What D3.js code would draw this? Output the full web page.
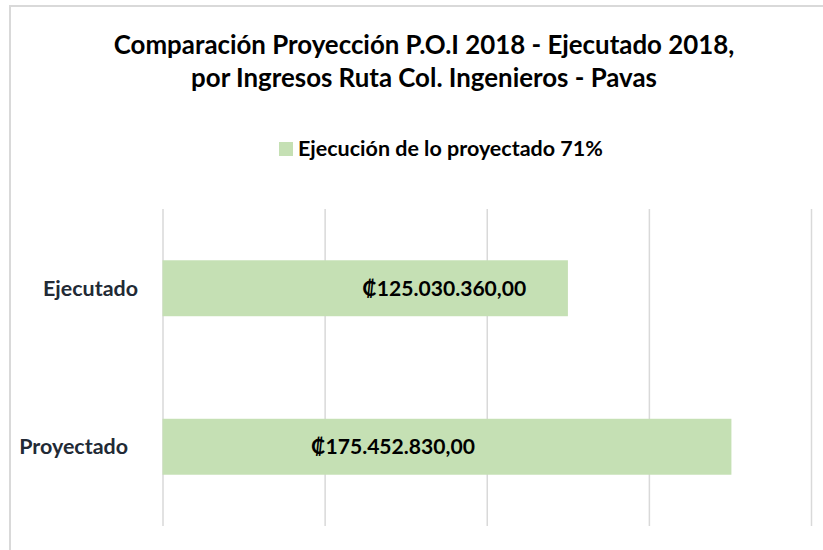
<!DOCTYPE html>
<html>
<head>
<meta charset="utf-8">
<script src="https://cdn.jsdelivr.net/npm/d3@7"></script>
<style>
  html, body { margin: 0; padding: 0; background: #fff; }
  svg { display: block; }
  text { font-family: Lato, "Noto Sans", sans-serif; font-weight: 700; }
</style>
</head>
<body>
<svg id="chart" width="823" height="550"></svg>
<script>
// ---- data ----
const categories = ["Ejecutado", "Proyectado"];
const values = [125030360.00, 175452830.00];
const valueLabels = ["₡125.030.360,00", "₡175.452.830,00"];
const xTicks = [0, 50000000, 100000000, 150000000, 200000000];
const titleLines = ["Comparación Proyección P.O.I 2018 - Ejecutado 2018,", "por Ingresos Ruta Col. Ingenieros - Pavas"];
const legendLabel = "Ejecución de lo proyectado 71%";

// ---- layout ----
const W = 823, H = 550;
const plot = { left: 162.5, right: 811, top: 209, bottom: 526 };
const barColor = "#c5e0b4";
const gridColor = "#d9d9d9";

const svg = d3.select("#chart");

function fit(sel, target) {
  sel.attr("font-size", 20);
  const w = sel.node().getComputedTextLength();
  const fs = 20 * target / w;
  sel.attr("font-size", fs);
  return fs;
}

// frame
svg.append("rect")
  .attr("x", 10).attr("y", 6).attr("width", 900).attr("height", 900)
  .attr("fill", "#fff").attr("stroke", gridColor).attr("stroke-width", 2);

// scales
const x = d3.scaleLinear().domain([0, 200000000]).range([plot.left, plot.right]);
const y = d3.scaleBand().domain(categories).range([plot.top, plot.bottom])
  .paddingInner(0.647).paddingOuter(0.647 / 2);

// gridlines via axis
const grid = svg.append("g")
  .attr("transform", `translate(0,${plot.bottom})`)
  .call(d3.axisBottom(x).tickValues(xTicks).tickSize(-(plot.bottom - plot.top)).tickFormat(""));
grid.select(".domain").remove();
grid.selectAll(".tick line").attr("stroke", gridColor).attr("stroke-width", 1.5);

// bars
svg.append("g").selectAll("rect")
  .data(categories)
  .join("rect")
  .attr("x", x(0))
  .attr("y", d => y(d))
  .attr("width", (d, i) => x(values[i]) - x(0))
  .attr("height", y.bandwidth())
  .attr("fill", barColor);

// title
const t1 = svg.append("text").attr("x", 424).attr("y", 54).attr("text-anchor", "middle")
  .attr("fill", "#000").text(titleLines[0]);
const t2 = svg.append("text").attr("x", 424).attr("y", 87).attr("text-anchor", "middle")
  .attr("fill", "#000").text(titleLines[1]);
const tfs = fit(t2, 466);
t1.attr("font-size", tfs);

// legend
svg.append("rect").attr("x", 279).attr("y", 142).attr("width", 14).attr("height", 14).attr("fill", barColor);
const lg = svg.append("text").attr("x", 298).attr("y", 155.5).attr("fill", "#000").text(legendLabel);
fit(lg, 305);

// category axis labels
const catOffset = { "Ejecutado": 24.5, "Proyectado": 34.5 };
const yAxis = svg.append("g")
  .attr("transform", `translate(${plot.left},0)`)
  .call(d3.axisLeft(y).tickSize(0).tickPadding(0));
yAxis.select(".domain").remove();
const catTexts = yAxis.selectAll(".tick text")
  .attr("fill", "#222a35")
  .attr("font-family", null)
  .attr("dy", "0.35em")
  .attr("x", d => -catOffset[d]);
const cfs = fit(d3.select(catTexts.nodes()[0]), 95);
catTexts.attr("font-size", cfs);

// value labels
const labelFrac = [0.695, 0.405];
const vl = svg.append("g").selectAll("text")
  .data(categories)
  .join("text")
  .attr("x", (d, i) => x(values[i] * labelFrac[i]))
  .attr("y", d => y(d) + y.bandwidth() / 2)
  .attr("dy", "0.35em")
  .attr("text-anchor", "middle")
  .attr("fill", "#000")
  .text((d, i) => valueLabels[i]);
const vfs = fit(d3.select(vl.nodes()[0]), 164);
vl.attr("font-size", vfs);
</script>
</body>
</html>
